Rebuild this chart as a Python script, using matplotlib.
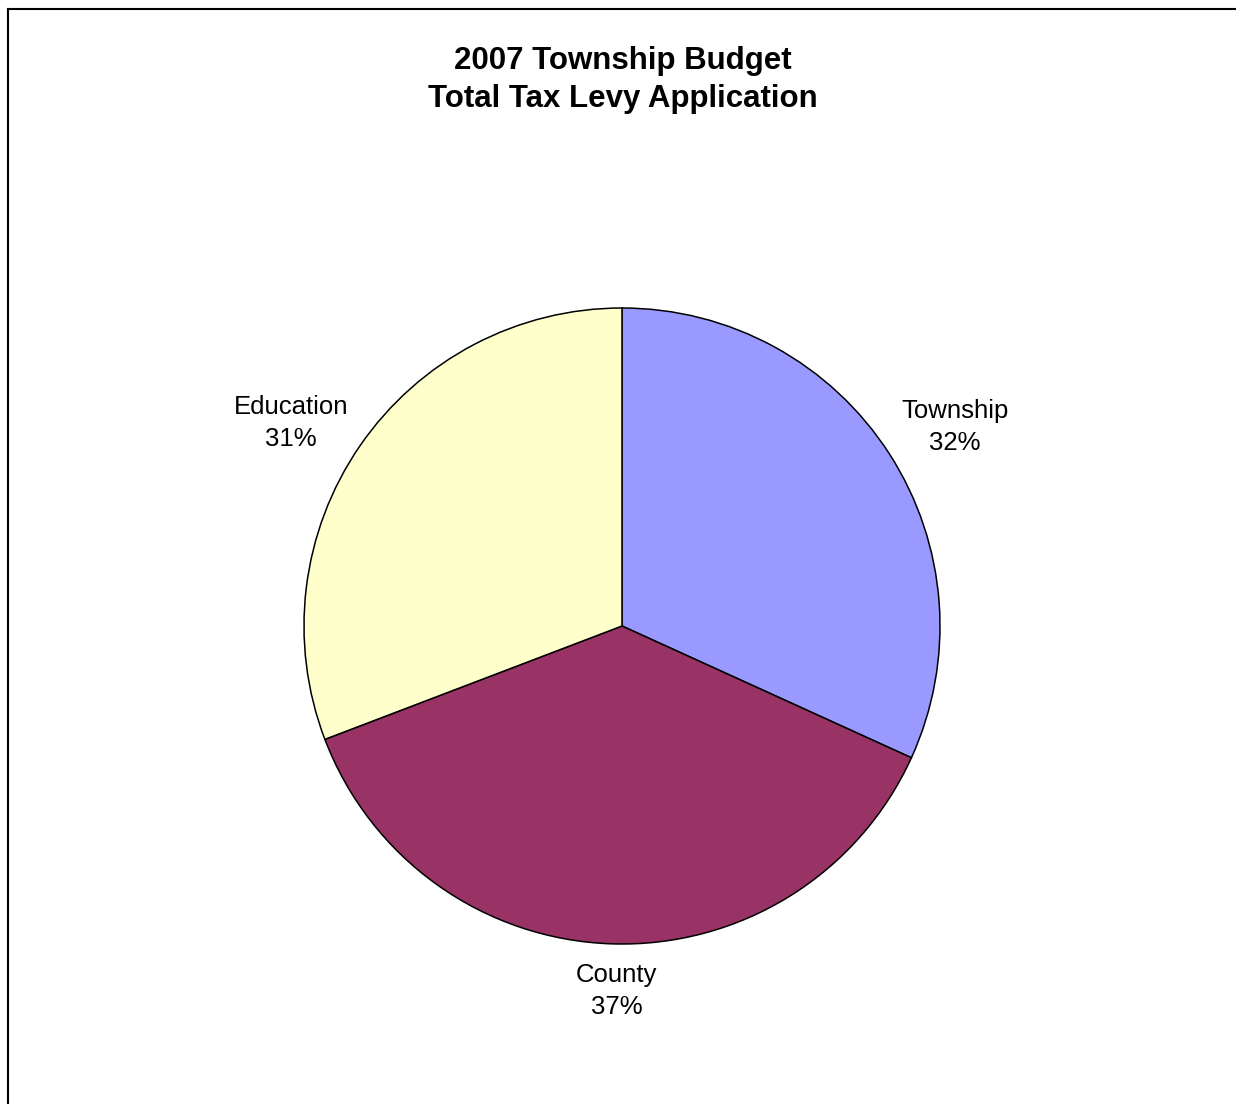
import numpy as np
import matplotlib
matplotlib.use("Agg")
import matplotlib.pyplot as plt
from matplotlib.lines import Line2D

categories = ["Township", "County", "Education"]
values = [31.8, 37.4, 30.8]
colors = ["#9999FF", "#993366", "#FFFFCC"]
title_lines = ["2007 Township Budget", "Total Tax Levy Application"]

W, H = 1236, 1104
fig = plt.figure(figsize=(W / 100, H / 100), dpi=100)
fig.patch.set_facecolor("white")

# outer chart border (left and top edges visible)
fig.add_artist(Line2D([7.5 / W, 7.5 / W], [0, 1 - 9 / H], transform=fig.transFigure,
                      color="black", lw=1.5))
fig.add_artist(Line2D([7.5 / W, 1.0], [1 - 9 / H, 1 - 9 / H], transform=fig.transFigure,
                      color="black", lw=1.5))

# pie axes: center (622, 626) px from top, radius 318 px
cx, cy, R = 622, 626, 318
half = 420
ax = fig.add_axes([(cx - half) / W, (H - cy - half) / H, 2 * half / W, 2 * half / H])
lim = half / R

wedges, _ = ax.pie(values, colors=colors, startangle=90, counterclock=False,
                   radius=1.0, center=(0, 0), frame=True,
                   wedgeprops=dict(edgecolor="black", linewidth=1.1))
ax.set_xlim(-lim, lim)
ax.set_ylim(-lim, lim)
ax.set_aspect("equal")
ax.axis("off")

label_dist = [1.223, 1.14, 1.223]
label_offset_px = [(6, -11), (6, -3), (-11, -18)]
total = sum(values)
for w, cat, v, d, off in zip(wedges, categories, values, label_dist, label_offset_px):
    mid = np.deg2rad((w.theta1 + w.theta2) / 2)
    x, y = d * np.cos(mid), d * np.sin(mid)
    ax.annotate(f"{cat}\n{round(v / total * 100):.0f}%", xy=(x, y), xytext=off,
                textcoords="offset pixels", ha="center", va="center",
                fontsize=18.5, family="Liberation Sans", linespacing=1.42)

fig.text(623 / W, 1 - 80 / H, "\n".join(title_lines), ha="center", va="center",
         fontsize=22.5, fontweight="bold", family="Liberation Sans", linespacing=1.33)

fig.savefig("out.png", dpi=100, facecolor="white")
